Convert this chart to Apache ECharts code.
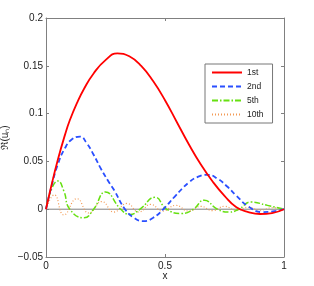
<!DOCTYPE html>
<html><head><meta charset="utf-8">
<script src="https://cdn.jsdelivr.net/npm/echarts@6/dist/echarts.min.js"></script>
<style>html,body{margin:0;padding:0;background:#fff}#c{width:314px;height:286px}</style>
</head><body><div id="c"></div>
<script>
// Series names
var seriesNames = ['1st', '2nd', '5th', '10th'];
// 1st mode
var x1 = [0,0.02,0.05,0.08,0.1,0.13,0.16,0.2,0.25,0.3,0.35,0.4,0.45,0.5,0.55,0.6,0.65,0.7,0.75,0.8,0.85,0.9,0.95,1];
var y1 = [0,0.022,0.052,0.078,0.093,0.111,0.126,0.142,0.156,0.163,0.160,0.150,0.134,0.114,0.091,0.068,0.047,0.029,0.014,0.002,-0.003,-0.005,-0.004,0];
// 2nd mode
var x2 = [0,0.02,0.05,0.08,0.108,0.143,0.171,0.2,0.227,0.26,0.286,0.332,0.37,0.41,0.45,0.493,0.54,0.6,0.64,0.68,0.72,0.76,0.8,0.85,0.91,0.96,1];
var y2 = [0,0.021,0.047,0.064,0.073,0.076,0.069,0.057,0.044,0.030,0.020,0,-0.009,-0.0125,-0.009,0,0.013,0.028,0.034,0.036,0.032,0.024,0.014,0.003,-0.003,-0.002,0];
// 5th mode
var x5 = [0,0.025,0.05,0.075,0.1,0.16,0.2,0.25,0.314,0.353,0.395,0.458,0.507,0.57,0.619,0.665,0.72,0.77,0.81,0.861,0.93,1];
var y5 = [0,0.022,0.0295,0.019,0,-0.009,0,0.018,0,-0.0055,0,0.0125,0,-0.0045,0,0.0094,0,-0.003,0,0.0075,0.004,0];
// 10th mode
var x10 = [0,0.035,0.075,0.13,0.18,0.235,0.285,0.34,0.39,0.44,0.49,0.545,0.6,0.65,0.7,0.75,0.8,0.85,0.9,0.95,1];
var y10 = [0,0.015,-0.006,0.011,-0.004,0.008,-0.003,0.006,-0.003,0.005,-0.002,0.004,-0.002,0.003,-0.0015,0.003,-0.001,0.002,-0.001,0.0015,0];
// Zero reference line
var zeroX = [0, 1];
var zeroY = [0, 0];

function zip(a, b) { return a.map(function (v, i) { return [v, b[i]]; }); }

var font = 'Liberation Sans, Arial, Helvetica, sans-serif';
var axisCol = '#808080';
function fmt(v) { return String(+v.toFixed(4)).replace('-', '\u2212'); }

var chart = echarts.init(document.getElementById('c'), null, {renderer: 'canvas'});
chart.setOption({
  animation: false,
  backgroundColor: '#fff',
  grid: {left: 46, right: 30, top: 18, bottom: 29, show: false, containLabel: false, outerBoundsMode: 'none'},
  legend: {
    data: seriesNames,
    orient: 'vertical', left: 205, top: 64,
    itemWidth: 30, itemHeight: 10, itemGap: 5,
    padding: [4, 9, 4, 6],
    backgroundColor: '#fff', borderColor: '#777', borderWidth: 1, borderRadius: 0,
    itemStyle: {opacity: 0},
    textStyle: {fontFamily: font, fontSize: 8.5, color: '#222'}
  },
  xAxis: [{
    type: 'value', min: 0, max: 1, interval: 0.5, position: 'bottom',
    name: 'x', nameLocation: 'middle', nameGap: 14, nameMoveOverlap: false,
    nameTextStyle: {fontFamily: font, fontSize: 10, color: '#222'},
    axisLine: {show: true, onZero: false, lineStyle: {color: axisCol, width: 1}},
    axisTick: {show: true, inside: true, length: 3, lineStyle: {color: axisCol}},
    axisLabel: {fontFamily: font, fontSize: 10, color: '#222', margin: 4, formatter: fmt},
    splitLine: {show: false}
  }, {
    type: 'value', min: 0, max: 1, interval: 0.5, position: 'top',
    axisLine: {show: true, onZero: false, lineStyle: {color: axisCol, width: 1}},
    axisTick: {show: true, inside: true, length: 3, lineStyle: {color: axisCol}},
    axisLabel: {show: false}, splitLine: {show: false}
  }],
  yAxis: [{
    type: 'value', min: -0.05, max: 0.2, interval: 0.05, position: 'left',
    name: '\u211C(u\u2099)', nameLocation: 'middle', nameGap: 36, nameMoveOverlap: false,
    nameTextStyle: {fontFamily: font, fontSize: 10, color: '#222'},
    axisLine: {show: true, onZero: false, lineStyle: {color: axisCol, width: 1}},
    axisTick: {show: true, inside: true, length: 3, lineStyle: {color: axisCol}},
    axisLabel: {fontFamily: font, fontSize: 10, color: '#222', margin: 3, formatter: fmt},
    splitLine: {show: false}
  }, {
    type: 'value', min: -0.05, max: 0.2, interval: 0.05, position: 'right',
    axisLine: {show: true, onZero: false, lineStyle: {color: axisCol, width: 1}},
    axisTick: {show: true, inside: true, length: 3, lineStyle: {color: axisCol}},
    axisLabel: {show: false}, splitLine: {show: false}
  }],
  series: [
    {name: 'zero', type: 'line', data: zip(zeroX, zeroY), symbol: 'none', silent: true,
     lineStyle: {color: '#808080', width: 1}, z: 1},
    {name: '1st', type: 'line', data: zip(x1, y1), symbol: 'none', smooth: true, z: 5,
     itemStyle: {color: '#ff0000'}, lineStyle: {color: '#ff0000', width: 1.8}},
    {name: '2nd', type: 'line', data: zip(x2, y2), symbol: 'none', smooth: true, z: 4,
     itemStyle: {color: '#2a4fff'}, lineStyle: {color: '#2a4fff', width: 1.8, type: [5, 3]}},
    {name: '5th', type: 'line', data: zip(x5, y5), symbol: 'none', smooth: true, z: 3,
     itemStyle: {color: '#66e011'}, lineStyle: {color: '#66e011', width: 1.5, type: [6, 2, 1.5, 2]}},
    {name: '10th', type: 'line', data: zip(x10, y10), symbol: 'none', smooth: true, z: 2,
     itemStyle: {color: '#f39a55'}, lineStyle: {color: '#f39a55', width: 1.2, type: [1, 2]}}
  ]
});
</script>
</body></html>
